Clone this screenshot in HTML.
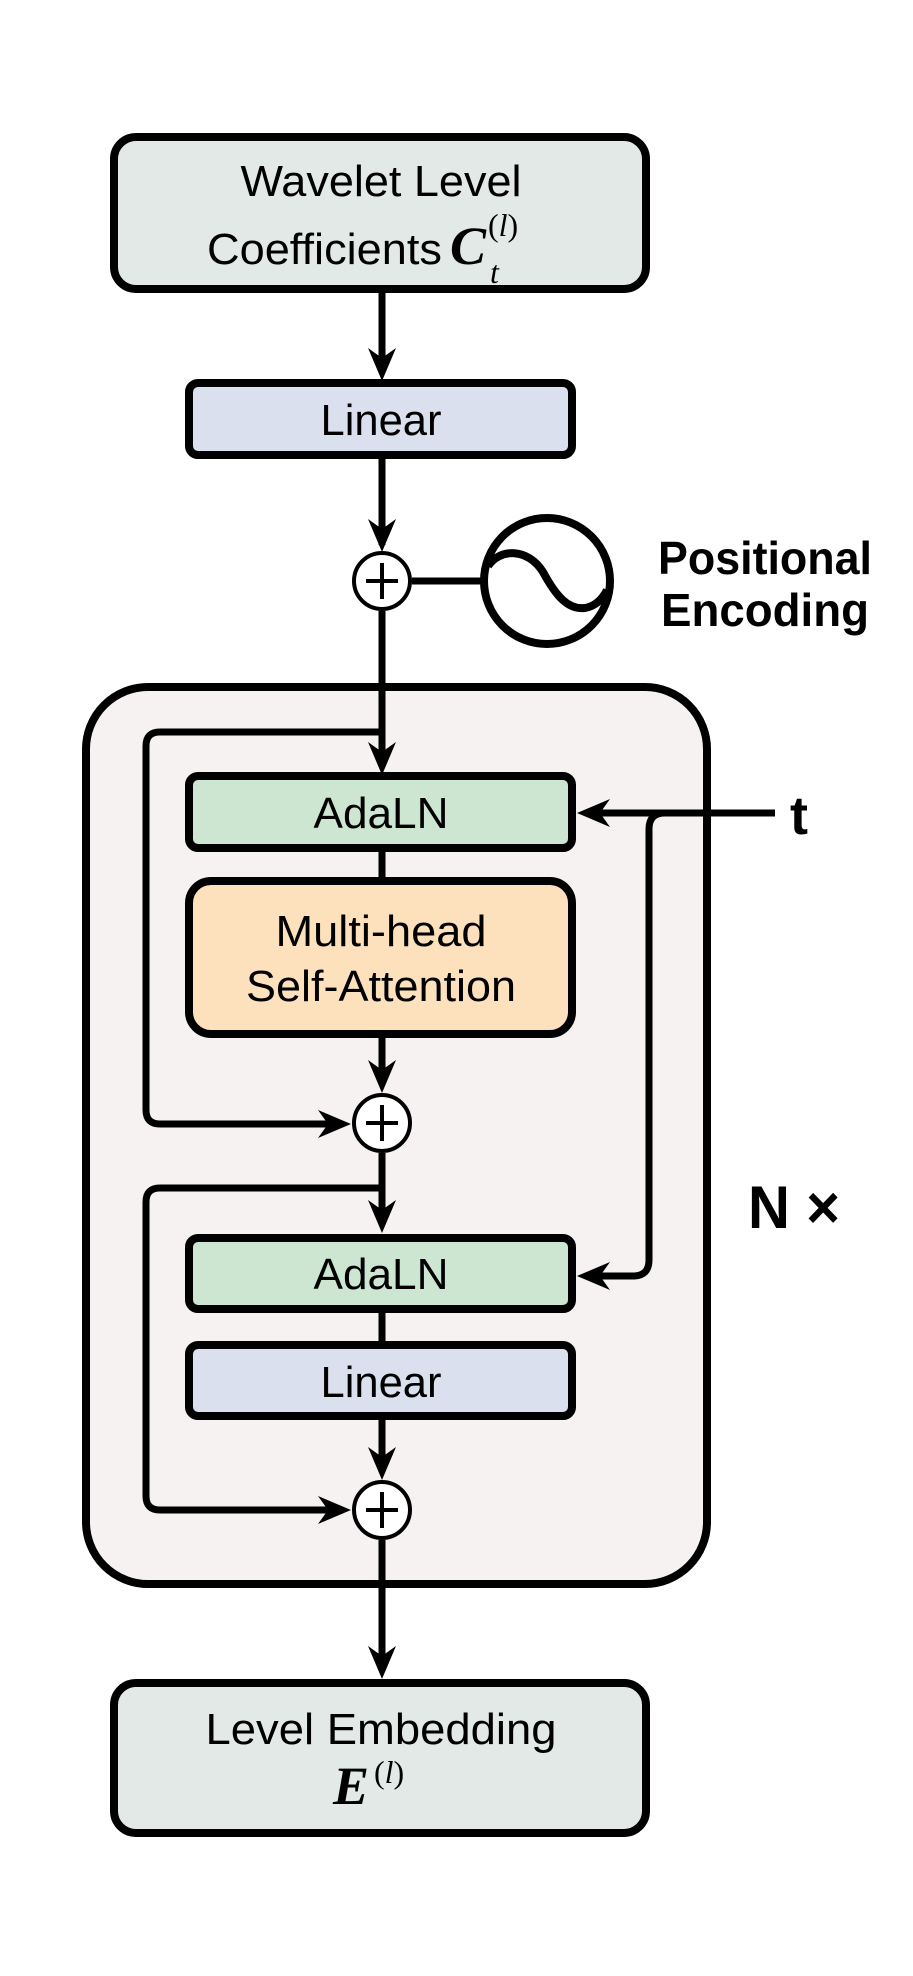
<!DOCTYPE html>
<html><head><meta charset="utf-8"><style>
html,body{margin:0;padding:0;background:#fff;}
svg{display:block;}
text{font-family:"Liberation Sans",sans-serif;fill:#000;}
.m{font-family:"Liberation Serif",serif;}
</style></head><body>
<svg width="913" height="1976" viewBox="0 0 913 1976" xmlns="http://www.w3.org/2000/svg">
<rect x="0" y="0" width="913" height="1976" fill="#fff"/>

<rect x="86" y="687" width="621" height="897" rx="62" fill="#f6f2f1" stroke="#000" stroke-width="8"/>

<rect x="114" y="137" width="532" height="152" rx="22" fill="#e3e9e6" stroke="#000" stroke-width="8"/>
<text x="381" y="196" font-size="44" text-anchor="middle" textLength="281" lengthAdjust="spacingAndGlyphs">Wavelet Level</text>
<text x="207" y="264" font-size="44" textLength="235" lengthAdjust="spacingAndGlyphs">Coefficients</text>
<text x="450" y="264" font-size="54" font-style="italic" font-weight="bold" class="m">C</text>
<text x="490" y="283" font-size="32" font-style="italic" class="m">t</text>
<text x="488" y="236" font-size="32" class="m">(<tspan font-style="italic">l</tspan>)</text>

<rect x="189" y="383" width="383" height="72" rx="9" fill="#dbe0ee" stroke="#000" stroke-width="8"/>
<text x="381" y="435" font-size="44" text-anchor="middle" textLength="121" lengthAdjust="spacingAndGlyphs">Linear</text>

<g stroke="#000" stroke-width="7" fill="none">
<line x1="382" y1="293" x2="382" y2="370"/>
<line x1="382" y1="459" x2="382" y2="545"/>
<line x1="382" y1="611" x2="382" y2="765"/>
<line x1="382" y1="852" x2="382" y2="880"/>
<line x1="382" y1="1038" x2="382" y2="1085"/>
<line x1="382" y1="1153" x2="382" y2="1222"/>
<line x1="382" y1="1309" x2="382" y2="1343"/>
<line x1="382" y1="1416" x2="382" y2="1468"/>
<line x1="382" y1="1540" x2="382" y2="1665"/>
<line x1="412" y1="581" x2="484" y2="581"/>
<path d="M382,732 H160 Q146,732 146,746 V1110 Q146,1124 160,1124 H340"/>
<path d="M382,1188 H160 Q146,1188 146,1202 V1496 Q146,1510 160,1510 H340"/>
<path d="M775,813 H590"/>
<path d="M665,813 Q649,813 649,829 V1260 Q649,1276 633,1276 H590"/>
</g>

<g fill="#000">
<polygon points="382,381 368,348 382,358 396,348"/>
<polygon points="382,552 368,519 382,529 396,519"/>
<polygon points="382,775 368,742 382,752 396,742"/>
<polygon points="382,1093 368,1060 382,1070 396,1060"/>
<polygon points="382,1233 368,1200 382,1210 396,1200"/>
<polygon points="382,1480 368,1447 382,1457 396,1447"/>
<polygon points="382,1679 368,1646 382,1656 396,1646"/>
<polygon points="351,1124 318,1110 328,1124 318,1138"/>
<polygon points="351,1510 318,1496 328,1510 318,1524"/>
<polygon points="577,813 610,799 600,813 610,827"/>
<polygon points="577,1276 610,1262 600,1276 610,1290"/>
</g>

<g stroke="#000" fill="#fff">
<circle cx="382" cy="581" r="28" stroke-width="4"/>
<circle cx="382" cy="1123" r="28" stroke-width="4"/>
<circle cx="382" cy="1510" r="28" stroke-width="4"/>
</g>
<g stroke="#000" stroke-width="4">
<line x1="366" y1="581" x2="398" y2="581"/><line x1="382" y1="563" x2="382" y2="599"/>
<line x1="366" y1="1123" x2="398" y2="1123"/><line x1="382" y1="1105" x2="382" y2="1141"/>
<line x1="366" y1="1510" x2="398" y2="1510"/><line x1="382" y1="1492" x2="382" y2="1528"/>
</g>

<circle cx="547" cy="581" r="63" fill="#fff" stroke="#000" stroke-width="8"/>
<path d="M488,566 C500,548 528,548 543,572 C556,596 568,610 585,608 C596,606 603,598 607,590" fill="none" stroke="#000" stroke-width="8"/>

<text x="658" y="574" font-size="46" font-weight="bold" textLength="214" lengthAdjust="spacingAndGlyphs">Positional</text>
<text x="661" y="626" font-size="46" font-weight="bold" textLength="208" lengthAdjust="spacingAndGlyphs">Encoding</text>

<rect x="189" y="776" width="383" height="72" rx="9" fill="#cce6d2" stroke="#000" stroke-width="8"/>
<text x="381" y="828" font-size="44" text-anchor="middle" textLength="135" lengthAdjust="spacingAndGlyphs">AdaLN</text>

<rect x="189" y="881" width="383" height="153" rx="22" fill="#fde1bd" stroke="#000" stroke-width="8"/>
<text x="381" y="946" font-size="44" text-anchor="middle" textLength="211" lengthAdjust="spacingAndGlyphs">Multi-head</text>
<text x="381" y="1001" font-size="44" text-anchor="middle" textLength="270" lengthAdjust="spacingAndGlyphs">Self-Attention</text>

<rect x="189" y="1238" width="383" height="71" rx="9" fill="#cce6d2" stroke="#000" stroke-width="8"/>
<text x="381" y="1289" font-size="44" text-anchor="middle" textLength="135" lengthAdjust="spacingAndGlyphs">AdaLN</text>

<rect x="189" y="1345" width="383" height="71" rx="9" fill="#dbe0ee" stroke="#000" stroke-width="8"/>
<text x="381" y="1397" font-size="44" text-anchor="middle" textLength="121" lengthAdjust="spacingAndGlyphs">Linear</text>

<text x="790" y="834" font-size="54" font-weight="bold">t</text>
<text x="748" y="1228" font-size="60" font-weight="bold" textLength="92" lengthAdjust="spacingAndGlyphs">N ×</text>

<rect x="114" y="1683" width="532" height="150" rx="22" fill="#e3e9e6" stroke="#000" stroke-width="8"/>
<text x="381" y="1744" font-size="44" text-anchor="middle" textLength="351" lengthAdjust="spacingAndGlyphs">Level Embedding</text>
<text x="333" y="1804" font-size="54" font-style="italic" font-weight="bold" class="m">E</text>
<text x="374" y="1783" font-size="32" class="m">(<tspan font-style="italic">l</tspan>)</text>
</svg>
</body></html>
